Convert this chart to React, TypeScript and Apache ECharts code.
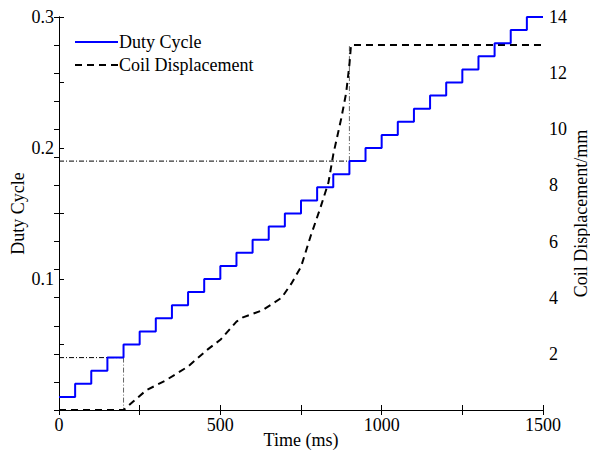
import React, { useEffect, useRef } from "react";
import * as echarts from "echarts";

const dutyTimes = [0, 50, 100, 150, 200, 250, 300, 350, 400, 450, 500, 550, 600, 650, 700, 750, 800, 850, 900, 950, 1000, 1050, 1100, 1150, 1200, 1250, 1300, 1350, 1400, 1450, 1500];
const dutyValues = [0.01, 0.02, 0.03, 0.04, 0.05, 0.06, 0.07, 0.08, 0.09, 0.10, 0.11, 0.12, 0.13, 0.14, 0.15, 0.16, 0.17, 0.18, 0.19, 0.20, 0.21, 0.22, 0.23, 0.24, 0.25, 0.26, 0.27, 0.28, 0.29, 0.30, 0.30];

const coilTimes = [0, 200, 230, 270, 330, 400, 460, 500, 550, 570, 630, 690, 720, 750, 780, 810, 835, 850, 875, 890, 900, 905, 1500];
const coilValues = [0, 0, 0.3, 0.7, 1.05, 1.55, 2.15, 2.5, 3.15, 3.3, 3.55, 4.0, 4.5, 5.1, 6.2, 7.2, 8.1, 9.1, 10.4, 11.3, 12.3, 13.0, 13.0];

// reference guide lines (time, duty)
const guideH1 = [[0, 0.04], [200, 0.04]];
const guideV1 = [[200, 0.04], [200, 0]];
const guideH2 = [[0, 0.19], [900, 0.19]];
const guideV2 = [[900, 0.19], [900, 0.2786]];

const xTickLabels = [0, 500, 1000, 1500];
const leftTickLabels = [0.1, 0.2, 0.3];
const rightTickLabels = [2, 4, 6, 8, 10, 12, 14];
const legendNames = ["Duty Cycle", "Coil Displacement"];

const FONT = "'Liberation Serif', 'Times New Roman', serif";

export default function App() {
  const ref = useRef<HTMLDivElement>(null);
  useEffect(() => {
    if (!ref.current) return;
    const chart = echarts.init(ref.current, undefined, { renderer: "svg" });
    const axisLine = { show: true, lineStyle: { color: "#000", width: 1 } };
    const labelStyle = { color: "#000", fontSize: 18, fontFamily: FONT };
    const near = (a: number, b: number) => Math.abs(a - b) < 1e-6;
    const tick = { show: true, inside: true, length: 5, lineStyle: { color: "#000" } };
    const guideStyle = (color: string) => ({
      type: "line",
      yAxisIndex: 0,
      symbol: "none",
      silent: true,
      lineStyle: { color, width: 1, type: [5, 2, 1, 2] },
      z: 1,
    });
    const legendLine = (y: number, stroke: string, dash: number[] | null) => ({
      type: "line",
      shape: { x1: 75, y1: y, x2: 118, y2: y },
      style: { stroke, lineWidth: 2, lineDash: dash || undefined },
    });
    const legendText = (y: number, text: string) => ({
      type: "text",
      x: 119,
      y,
      style: { text, fill: "#000", font: `18px ${FONT}`, textVerticalAlign: "middle", verticalAlign: "middle" },
    });
    chart.setOption({
      animation: false,
      backgroundColor: "#fff",
      textStyle: { fontFamily: FONT },
      grid: { left: 59, right: 47, top: 17, bottom: 43, containLabel: false, outerBoundsMode: "none" },
      graphic: [
        legendLine(42, "#0000ff", null),
        legendText(42, legendNames[0]),
        legendLine(65, "#000", [7, 5]),
        legendText(65, legendNames[1]),
      ],
      xAxis: [
        {
          type: "value",
          min: 0,
          max: 1500,
          interval: 250,
          name: "Time (ms)",
          nameLocation: "middle",
          nameGap: 21,
          nameMoveOverlap: false,
          nameTextStyle: labelStyle,
          axisLine,
          axisTick: tick,
          axisLabel: {
            ...labelStyle,
            margin: 6,
            formatter: (v: number) => (xTickLabels.some((t) => near(t, v)) ? String(v) : ""),
          },
          splitLine: { show: false },
        },
        {
          type: "value",
          position: "top",
          min: 0,
          max: 1500,
          interval: 250,
          axisLine,
          axisTick: tick,
          axisLabel: { show: false },
          splitLine: { show: false },
        },
      ],
      yAxis: [
        {
          type: "value",
          min: 0,
          max: 0.3,
          interval: 0.05,
          name: "Duty Cycle",
          nameLocation: "middle",
          nameRotate: 90,
          nameGap: 32,
          nameMoveOverlap: false,
          nameTextStyle: labelStyle,
          axisLine,
          axisTick: tick,
          axisLabel: {
            ...labelStyle,
            margin: 5,
            formatter: (v: number) => {
              const l = leftTickLabels.find((t) => near(t, v));
              return l !== undefined ? String(l) : "";
            },
          },
          splitLine: { show: false },
        },
        {
          type: "value",
          position: "right",
          min: 0,
          max: 14,
          interval: 1,
          name: "Coil Displacement/mm",
          nameLocation: "middle",
          nameRotate: 90,
          nameGap: 29,
          nameMoveOverlap: false,
          nameTextStyle: labelStyle,
          axisLine,
          axisTick: tick,
          axisLabel: {
            ...labelStyle,
            margin: 6,
            formatter: (v: number) => (rightTickLabels.some((t) => near(t, v)) ? String(v) : ""),
          },
          splitLine: { show: false },
        },
      ],
      series: [
        { ...guideStyle("#000"), name: "g1", data: guideH1 },
        { ...guideStyle("#666"), name: "g2", data: guideV1 },
        { ...guideStyle("#000"), name: "g3", data: guideH2 },
        { ...guideStyle("#666"), name: "g4", data: guideV2 },
        {
          name: legendNames[0],
          type: "line",
          yAxisIndex: 0,
          step: "end",
          symbol: "none",
          lineStyle: { color: "#0000ff", width: 2 },
          itemStyle: { color: "#0000ff" },
          data: dutyTimes.map((t, i) => [t, dutyValues[i]]),
          z: 3,
        },
        {
          name: legendNames[1],
          type: "line",
          yAxisIndex: 1,
          symbol: "none",
          lineStyle: { color: "#000", width: 2, type: [7, 5] },
          itemStyle: { color: "#000" },
          data: coilTimes.map((t, i) => [t, coilValues[i]]),
          z: 2,
        },
      ],
    });
    return () => chart.dispose();
  }, []);
  return <div ref={ref} style={{ width: 590, height: 453, position: "absolute", left: 0, top: 0 }} />;
}
